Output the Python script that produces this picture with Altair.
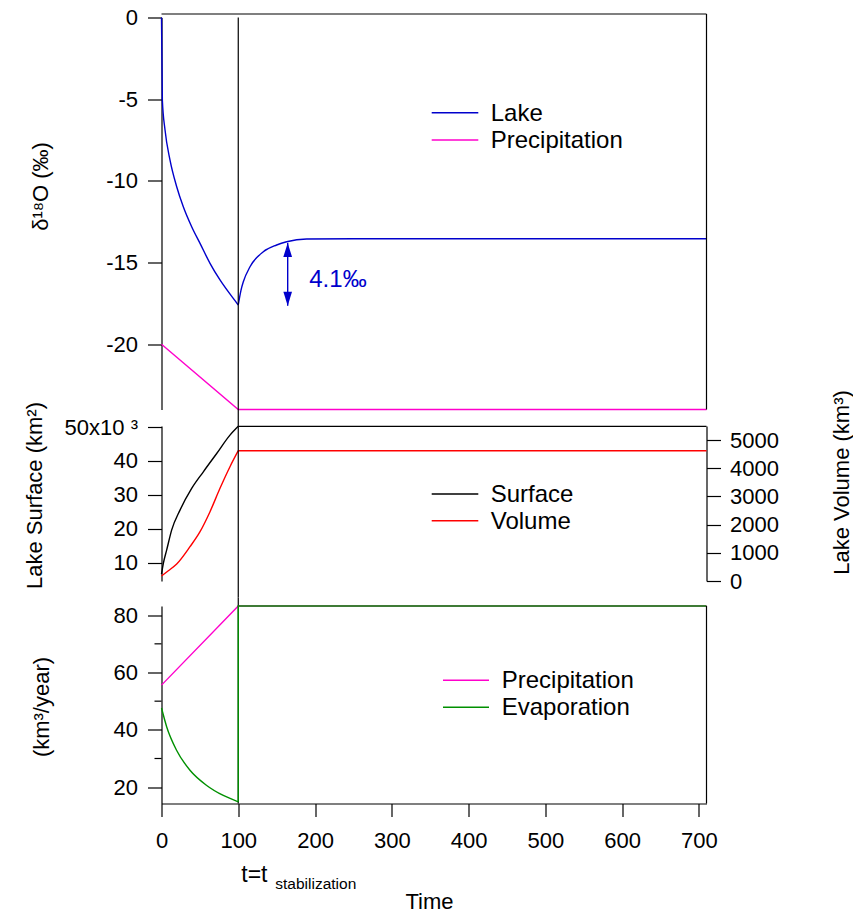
import altair as alt
import pandas as pd

FONT = "Liberation Sans"
BLUE = "#0000CC"
MAGENTA = "#FF00CC"
RED = "#FF0000"
GREEN = "#009000"
BLACK = "#000000"

# ---------------- data ----------------
# top panel: delta18O (permil)
lake_fall_t = [0, 1.1, 4.6, 11.1, 19.8, 28.4, 39.3, 50.2, 63.2, 76.2, 93.5, 100]
lake_fall = [0, -5.05, -6.89, -8.73, -10.36, -11.59, -12.81, -13.83, -15.05, -16.07, -17.2, -17.6]
lake_rise_t = [100, 103.6, 106.6, 115.3, 132.6, 150, 163, 189, 250, 400, 550, 710]
lake_rise = [-17.6, -16.69, -16.18, -15.26, -14.34, -13.93, -13.73, -13.56, -13.55, -13.55, -13.55, -13.55]
precip_iso_t = [0, 100, 710]
precip_iso = [-20, -24, -24]

# middle panel: lake surface (x10^3 km2) and volume (km3)
surf_t = [0, 2.4, 6.7, 13.2, 24.1, 39.3, 54.5, 71.9, 89.2, 100]
surf_val = [6.6, 9.8, 13.7, 19.6, 25.5, 31.9, 36.8, 42.2, 47.6, 50.2]
surf_flat_t = [100, 710]
surf_flat = [50.2, 50.2]
vol_t = [0, 8.9, 19.8, 37.1, 50.2, 63.2, 76.2, 89.2, 100]
vol_val = [177, 366, 603, 1217, 1750, 2459, 3290, 4056, 4624]
vol_flat_t = [100, 710]
vol_flat = [4624, 4624]

# bottom panel: fluxes (km3/year)
pflux_t = [0, 100, 710]
pflux = [55.6, 83.2, 83.2]
evap_t = [0, 6.8, 19.8, 37.1, 58.9, 80.5, 100]
evap = [47.6, 41.0, 32.8, 25.9, 20.6, 17.1, 14.9]
evap_jump_t = [100, 100, 710]
evap_jump = [14.9, 83.2, 83.2]

T_STAB = 100
ARROW_T = 164.4
ARROW_Y = [-13.8, -17.65]
ARROW_LABEL = "4.1‰"
ARROW_LABEL_T = 192.5
ARROW_LABEL_Y = -16.07

X_TICKS = [0, 100, 200, 300, 400, 500, 600, 700]
TOP_TICKS = [0, -5, -10, -15, -20]
SURF_TICKS = [10, 20, 30, 40, 50]
VOL_TICKS = [0, 1000, 2000, 3000, 4000, 5000]
FLUX_TICKS = [20, 40, 60, 80]
FLUX_MINOR = [30, 50, 70]

TOP_SERIES = ["Lake", "Precipitation"]
MID_SERIES = ["Surface", "Volume"]
BOT_SERIES = ["Precipitation", "Evaporation"]

# ---------------- layout ----------------
W = 545
H1 = 392
H2 = 155
GAP = 16.5
H3 = 206
H3_TOP = 8.5
LW = 1.4
LEG_FS = 24
HYPHEN_LABEL = "datum.value < 0 ? '-' + abs(datum.value) : '' + datum.value"

xscale = alt.Scale(domain=[0, 710], nice=False, zero=False)
one = pd.DataFrame({"a": [0]})


def series_df(t, v):
    return pd.DataFrame({"t": t, "v": v, "i": list(range(len(t)))})


def xenc(show_axis=False):
    # top/middle panels: no x axis; bottom: never pass axis=None (it would disable the shared axis)
    if show_axis is None:
        return alt.X("t:Q", scale=xscale)
    if show_axis is False:
        return alt.X("t:Q", scale=xscale, axis=None)
    return alt.X("t:Q", scale=xscale, axis=show_axis)


def line(df, color, yenc, xe, smooth=False):
    return alt.Chart(df).mark_line(color=color, strokeWidth=LW, clip=False,
                                   interpolate="monotone" if smooth else "linear").encode(
        x=xe, y=yenc, order="i:Q")


def vline(y2, xe):
    return alt.Chart(pd.DataFrame({"t": [T_STAB]})).mark_rule(color=BLACK, strokeWidth=1.2).encode(
        x=xe, y=alt.value(0), y2=alt.value(y2))


def legend_entry(label, color, x0, x1, y, xt):
    r = alt.Chart(one).mark_rule(color=color, strokeWidth=LW).encode(
        x=alt.value(x0), x2=alt.value(x1), y=alt.value(y))
    t = alt.Chart(one).mark_text(text=label, align="left", baseline="middle", fontSize=LEG_FS,
                                 font=FONT, color=BLACK).encode(x=alt.value(xt), y=alt.value(y + 1))
    return [r, t]


def left_axis(values, title, tx, ty, label_expr=HYPHEN_LABEL):
    return alt.Axis(values=values, tickCount=20, title=title, tickSize=14, labelPadding=10,
                    titleX=tx, titleY=ty, titleAngle=270, titleBaseline="alphabetic",
                    titleAlign="center", labelOverlap=False, labelFlush=False, labelExpr=label_expr)


# ---- top panel ----
ytop = alt.Scale(domain=[-24, 0], nice=False, zero=False)
top_axis = left_axis(TOP_TICKS, "δ¹⁸O (‰)", -114.5, 168.5)
top_layers = [
    line(series_df(lake_fall_t, lake_fall), BLUE, alt.Y("v:Q", scale=ytop, axis=top_axis),
         xenc(False), smooth=True),
    line(series_df(lake_rise_t, lake_rise), BLUE, alt.Y("v:Q", scale=ytop), xenc(False), smooth=True),
    line(series_df(precip_iso_t, precip_iso), MAGENTA, alt.Y("v:Q", scale=ytop), xenc(False)),
    vline(H1 + GAP, xenc(False)),
    alt.Chart(one).mark_rule(color=BLACK, strokeWidth=1.2).encode(
        x=alt.value(0), x2=alt.value(W), y=alt.value(-3.5)),
    alt.Chart(one).mark_rule(color=BLACK, strokeWidth=1.2).encode(
        x=alt.value(W), y=alt.value(-3.5), y2=alt.value(H1)),
]
arrow_df = pd.DataFrame({"t": [ARROW_T], "y1": [ARROW_Y[0]], "y2": [ARROW_Y[1]]})
top_layers.append(alt.Chart(arrow_df).mark_rule(color=BLUE, strokeWidth=LW).encode(
    x=xenc(False), y=alt.Y("y1:Q", scale=ytop), y2="y2:Q"))
top_layers.append(alt.Chart(arrow_df).mark_point(
    shape="M0,0L-0.31,1L0.31,1Z", size=784, filled=True, opacity=1, color=BLUE).encode(
    x=xenc(False), y=alt.Y("y1:Q", scale=ytop)))
top_layers.append(alt.Chart(arrow_df).mark_point(
    shape="M0,0L-0.31,-1L0.31,-1Z", size=784, filled=True, opacity=1, color=BLUE).encode(
    x=xenc(False), y=alt.Y("y2:Q", scale=ytop)))
top_layers.append(alt.Chart(pd.DataFrame({"t": [ARROW_LABEL_T], "v": [ARROW_LABEL_Y]})).mark_text(
    text=ARROW_LABEL, align="left", baseline="middle", fontSize=LEG_FS, font=FONT, color=BLUE).encode(
    x=xenc(False), y=alt.Y("v:Q", scale=ytop)))
top_layers += legend_entry(TOP_SERIES[0], BLUE, 270.2, 316.8, 95.2, 329.2)
top_layers += legend_entry(TOP_SERIES[1], MAGENTA, 270.2, 316.8, 122.5, 329.2)
top = alt.layer(*top_layers).properties(width=W, height=H1)

# ---- middle panel ----
ysurf = alt.Scale(domain=[4.6, 50.3], nice=False, zero=False)
yvol = alt.Scale(domain=[0, 5500], nice=False, zero=False)
surf_axis = left_axis(SURF_TICKS, "Lake Surface (km²)", -120, 69,
                      label_expr="datum.value == 50 ? '50x10 ³' : '' + datum.value")
vol_axis = alt.Axis(values=VOL_TICKS, tickCount=20, title="Lake Volume (km³)", orient="right",
                    tickSize=14, labelPadding=9, titleX=141.5, titleY=56, titleAngle=270,
                    titleBaseline="alphabetic", titleAlign="center", labelOverlap=False,
                    labelFlush=False, labelExpr="'' + datum.value")
mid_left = alt.layer(
    line(series_df(surf_t, surf_val), BLACK, alt.Y("v:Q", scale=ysurf, axis=surf_axis),
         xenc(False), smooth=True),
    line(series_df(surf_flat_t, surf_flat), BLACK, alt.Y("v:Q", scale=ysurf), xenc(False)),
)
mid_right = alt.layer(
    line(series_df(vol_t, vol_val), RED, alt.Y("v:Q", scale=yvol, axis=vol_axis),
         xenc(False), smooth=True),
    line(series_df(vol_flat_t, vol_flat), RED, alt.Y("v:Q", scale=yvol), xenc(False)),
)
mid_extra = [vline(H2 + GAP, xenc(False))]
mid_extra += legend_entry(MID_SERIES[0], BLACK, 270.2, 316.8, 68, 329.2)
mid_extra += legend_entry(MID_SERIES[1], RED, 270.2, 316.8, 94.7, 329.2)
mid = alt.layer(mid_left, mid_right, *mid_extra).resolve_scale(y="independent").properties(
    width=W, height=H2)

# ---- bottom panel ----
yflux = alt.Scale(domain=[14.3, 83.2], nice=False, zero=False, range=[H3, H3_TOP])
flux_axis = left_axis(FLUX_TICKS, "(km³/year)", -113.5, 109)
x_axis = alt.Axis(values=X_TICKS, tickCount=20, title="Time", tickSize=13, labelPadding=14,
                  labelFlush=False, labelOverlap=False, titleX=267.5, titleY=104.7,
                  titleBaseline="alphabetic", titleAlign="center")
bot_layers = [
    line(series_df(pflux_t, pflux), MAGENTA, alt.Y("v:Q", scale=yflux, axis=flux_axis), xenc(x_axis)),
    vline(H3, xenc(None)),
    line(series_df(evap_t, evap), GREEN, alt.Y("v:Q", scale=yflux), xenc(None), smooth=True),
    line(series_df(evap_jump_t, evap_jump), GREEN, alt.Y("v:Q", scale=yflux), xenc(None)),
    alt.Chart(pd.DataFrame({"v": FLUX_MINOR})).mark_rule(color=BLACK, strokeWidth=1.2).encode(
        y=alt.Y("v:Q", scale=yflux), x=alt.value(-7), x2=alt.value(0)),
    alt.Chart(one).mark_rule(color=BLACK, strokeWidth=1.2).encode(
        x=alt.value(W), y=alt.value(H3_TOP), y2=alt.value(H3)),
    alt.Chart(pd.DataFrame({"t": [T_STAB]})).mark_text(
        text="t=t", align="left", baseline="alphabetic", fontSize=23, font=FONT, color=BLACK, dx=3).encode(
        x=xenc(None), y=alt.value(284)),
    alt.Chart(pd.DataFrame({"t": [T_STAB]})).mark_text(
        text="stabilization", align="left", baseline="alphabetic", fontSize=15.5, font=FONT,
        color=BLACK, dx=37).encode(x=xenc(None), y=alt.value(291)),
]
bot_layers += legend_entry(BOT_SERIES[0], MAGENTA, 281.5, 327.5, 82.7, 340.2)
bot_layers += legend_entry(BOT_SERIES[1], GREEN, 281.5, 327.5, 109.7, 340.2)
bot = alt.layer(*bot_layers).properties(width=W, height=H3)

chart = alt.vconcat(top, mid, bot, spacing=GAP, bounds="flush").properties(
    padding={"left": 22.5, "top": 6.5, "right": 0, "bottom": 0}
).configure_axis(
    labelFont=FONT, labelFontSize=22, labelColor=BLACK, titleFont=FONT, titleFontSize=22,
    titleFontWeight="normal", titleColor=BLACK, domainColor=BLACK, domainWidth=1.2,
    tickColor=BLACK, tickWidth=1.2, grid=False
).configure_view(stroke=None)

chart.save("out.html", embed_options={"renderer": "svg", "actions": False})
